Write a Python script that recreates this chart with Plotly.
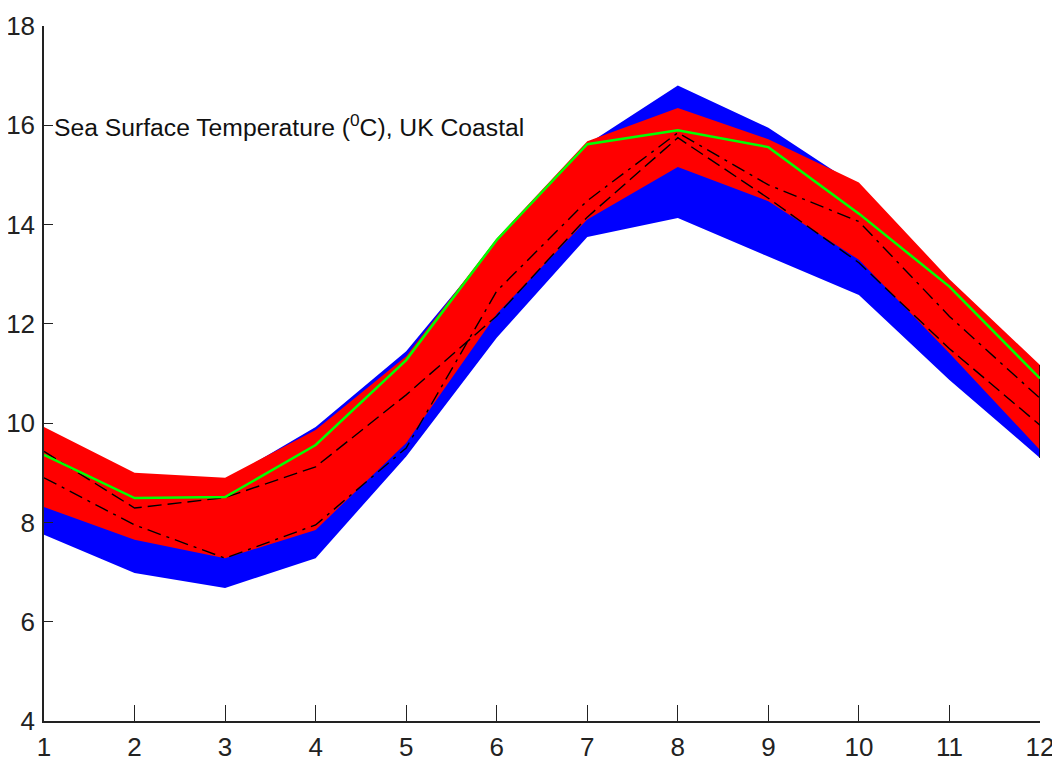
import plotly.graph_objects as go

months = [1, 2, 3, 4, 5, 6, 7, 8, 9, 10, 11, 12]

blue_high = [9.85, 8.95, 8.85, 9.92, 11.45, 13.65, 15.62, 16.8, 15.95, 14.75, 12.6, 10.9]
blue_low = [7.75, 6.98, 6.68, 7.28, 9.33, 11.72, 13.75, 14.13, 13.35, 12.58, 10.87, 9.3]

red_high = [9.92, 9.0, 8.9, 9.86, 11.35, 13.72, 15.68, 16.35, 15.72, 14.85, 12.9, 11.17]
red_low = [8.31, 7.65, 7.28, 7.85, 9.6, 12.2, 14.1, 15.16, 14.47, 13.29, 11.41, 9.46]

green_line = [9.36, 8.49, 8.51, 9.56, 11.27, 13.69, 15.62, 15.9, 15.56, 14.22, 12.75, 10.9]

dashed_line = [9.43, 8.29, 8.5, 9.12, 10.57, 12.16, 14.15, 15.75, 14.53, 13.23, 11.5, 9.96]
dashdot_line = [8.9, 7.95, 7.28, 7.95, 9.5, 12.66, 14.48, 15.85, 14.8, 14.06, 12.15, 10.5]

y_ticks = [4, 6, 8, 10, 12, 14, 16, 18]
label_text = "Sea Surface Temperature (<sup>0</sup>C), UK Coastal"

FONT = "Liberation Sans, Arial, sans-serif"

fig = go.Figure()

fig.add_trace(go.Scatter(
    x=months + months[::-1], y=blue_high + blue_low[::-1],
    fill="toself", fillcolor="#0000FF", mode="lines",
    line=dict(width=0, color="#0000FF"), hoverinfo="skip", showlegend=False))

fig.add_trace(go.Scatter(
    x=months + months[::-1], y=red_high + red_low[::-1],
    fill="toself", fillcolor="#FF0000", mode="lines",
    line=dict(width=0, color="#FF0000"), hoverinfo="skip", showlegend=False))

fig.add_trace(go.Scatter(
    x=months, y=dashed_line, mode="lines",
    line=dict(color="black", width=1.4, dash="14px,6px"), showlegend=False))

fig.add_trace(go.Scatter(
    x=months, y=dashdot_line, mode="lines",
    line=dict(color="black", width=1.4, dash="14px,6px,3px,6px"), showlegend=False))

fig.add_trace(go.Scatter(
    x=[months[-1], months[-1]], y=[blue_low[-1], red_high[-1]], mode="lines",
    line=dict(color="black", width=1.5), showlegend=False))

fig.add_trace(go.Scatter(
    x=months, y=green_line, mode="lines",
    line=dict(color="#00FF00", width=2.5), showlegend=False))

fig.add_annotation(
    x=1.1, y=16, xref="x", yref="y", text=label_text, showarrow=False,
    xanchor="left", yanchor="middle", xshift=-1,
    font=dict(family=FONT, size=24.7, color="#111111"))

fig.update_layout(
    width=1052, height=750,
    margin=dict(l=36, r=20, t=18, b=37),
    paper_bgcolor="white", plot_bgcolor="white",
    font=dict(family=FONT, size=26, color="#222222"),
)

fig.update_xaxes(
    range=[1, 12], tickmode="array", tickvals=months, ticktext=[str(m) for m in months],
    showgrid=False, zeroline=False, showline=True, linecolor="#222222", linewidth=1.5,
    ticks="inside", ticklen=16, tickwidth=1.2, tickcolor="#222222", mirror=False,
    automargin=False, ticklabelstandoff=2)

fig.update_yaxes(
    range=[4, 18], tickmode="array", tickvals=y_ticks, ticktext=[str(v) for v in y_ticks],
    showgrid=False, zeroline=False, showline=True, linecolor="#222222", linewidth=1.5,
    ticks="inside", ticklen=9, tickwidth=1.2, tickcolor="#222222", mirror=False,
    automargin=False, ticklabelstandoff=2)

fig.write_html("out.html")
